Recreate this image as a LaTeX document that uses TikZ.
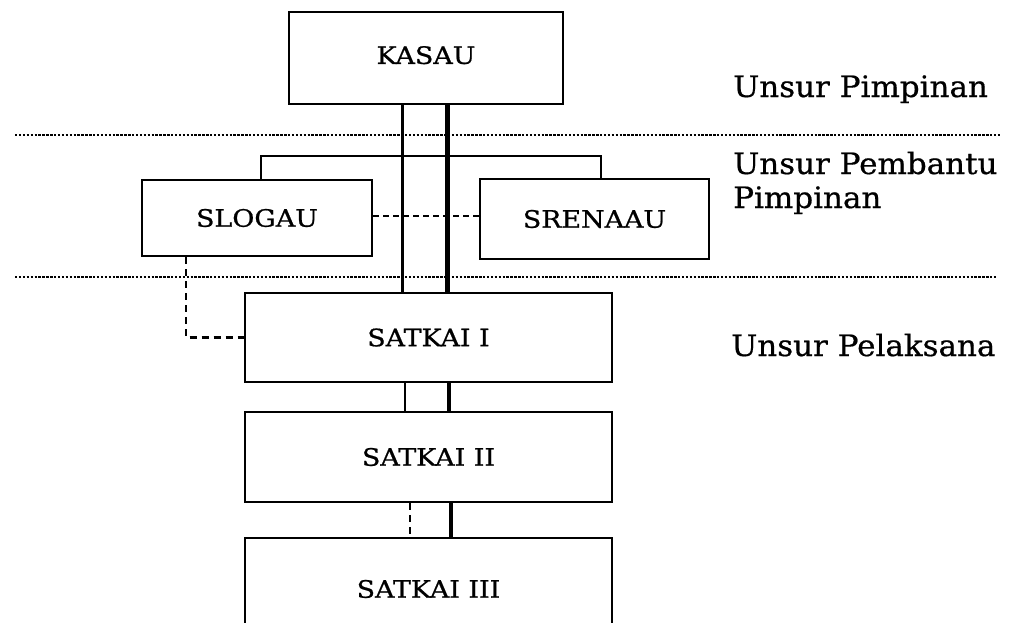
\documentclass[tikz,border=0pt]{standalone}
\usepackage{fontspec}
\setmainfont{DejaVu Serif}
\newfontfamily\boxfont[FakeStretch=1.12,FakeBold=0.8]{DejaVu Serif}
\newfontfamily\sidefont[FakeStretch=1.05,FakeBold=0.6]{DejaVu Serif}
\usetikzlibrary{calc}
\tikzset{
  unitbox/.style={draw, line width=2.2pt, rectangle, inner sep=0pt,
    font=\boxfont\fontsize{24}{28}\selectfont},
  sidelabel/.style={anchor=base west, inner sep=0pt, align=left,
    font=\sidefont\fontsize{29.5}{34}\selectfont},
  sepline/.style={line width=2.8pt, dash pattern=on 2.4pt off 1.5pt},
  thinline/.style={line width=2.2pt},
  thickline/.style={line width=4.4pt},
  thindash/.style={line width=1.5pt, dash pattern=on 6pt off 4pt},
  thickdash/.style={line width=2.2pt, dash pattern=on 7pt off 5pt},
}
\begin{document}
\begin{tikzpicture}[x=1pt, y=-1pt]
\useasboundingbox (0,0) rectangle (1020,622);
\clip (0,0) rectangle (1020,622);

% boxes
\node[unitbox, minimum width=274pt, minimum height=92pt, text depth=6pt] (kasau) at (426,58) {KASAU};
\node[unitbox, minimum width=230pt, minimum height=76pt] (slogau) at (257,218) {SLOGAU};
\node[unitbox, minimum width=229pt, minimum height=80pt] (srenaau) at (594.5,219) {SRENAAU};
\node[unitbox, minimum width=367pt, minimum height=89pt] (s1) at (428.5,337.5) {SATKAI I};
\node[unitbox, minimum width=367pt, minimum height=90pt] (s2) at (428.5,457) {SATKAI II};
\node[unitbox, minimum width=367pt, minimum height=102pt] (s3) at (428.5,589) {SATKAI III};

% side labels
\node[sidelabel] (lp) at (733,97) {Unsur Pimpinan};
\node[sidelabel] (lpb) at (733,208) {Unsur Pembantu\\Pimpinan};
\node[sidelabel] (lpl) at (731,356) {Unsur Pelaksana};

% separator lines
\coordinate (sepAL) at (15,135);
\coordinate (sepAR) at (1000,135);
\coordinate (sepBL) at (15,277);
\coordinate (sepBR) at (996,277);
\draw[sepline] (sepAL) -- (sepAR);
\draw[sepline] (sepBL) -- (sepBR);

% helper x positions
\coordinate (xa) at (402.5,0);
\coordinate (xb) at (447.5,0);
\coordinate (xc) at (405,0);
\coordinate (xd) at (449,0);
\coordinate (xe) at (410,0);
\coordinate (xf) at (451,0);
\coordinate (xl) at (261,0);
\coordinate (xr) at (601,0);
\coordinate (br) at (0,156);
\coordinate (xs) at (186,0);
\coordinate (dy) at (0,216);

% KASAU to SATKAI I
\draw[thinline] (kasau.south -| xa) -- (s1.north -| xa);
\draw[thickline] (kasau.south -| xb) -- (s1.north -| xb);

% staff bracket
\draw[thinline] (slogau.north -| xl) -- (br -| xl) -- (br -| xr) -- (srenaau.north -| xr);

% SLOGAU - SRENAAU coordination
\draw[thindash] (slogau.east |- dy) -- (srenaau.west |- dy);

% SLOGAU to SATKAI I
\draw[thickdash] (slogau.south -| xs) |- (s1.west);

% SATKAI I to II
\draw[thinline] (s1.south -| xc) -- (s2.north -| xc);
\draw[thickline] (s1.south -| xd) -- (s2.north -| xd);

% SATKAI II to III
\draw[thickdash] (s2.south -| xe) -- (s3.north -| xe);
\draw[thickline] (s2.south -| xf) -- (s3.north -| xf);
\end{tikzpicture}
\end{document}
